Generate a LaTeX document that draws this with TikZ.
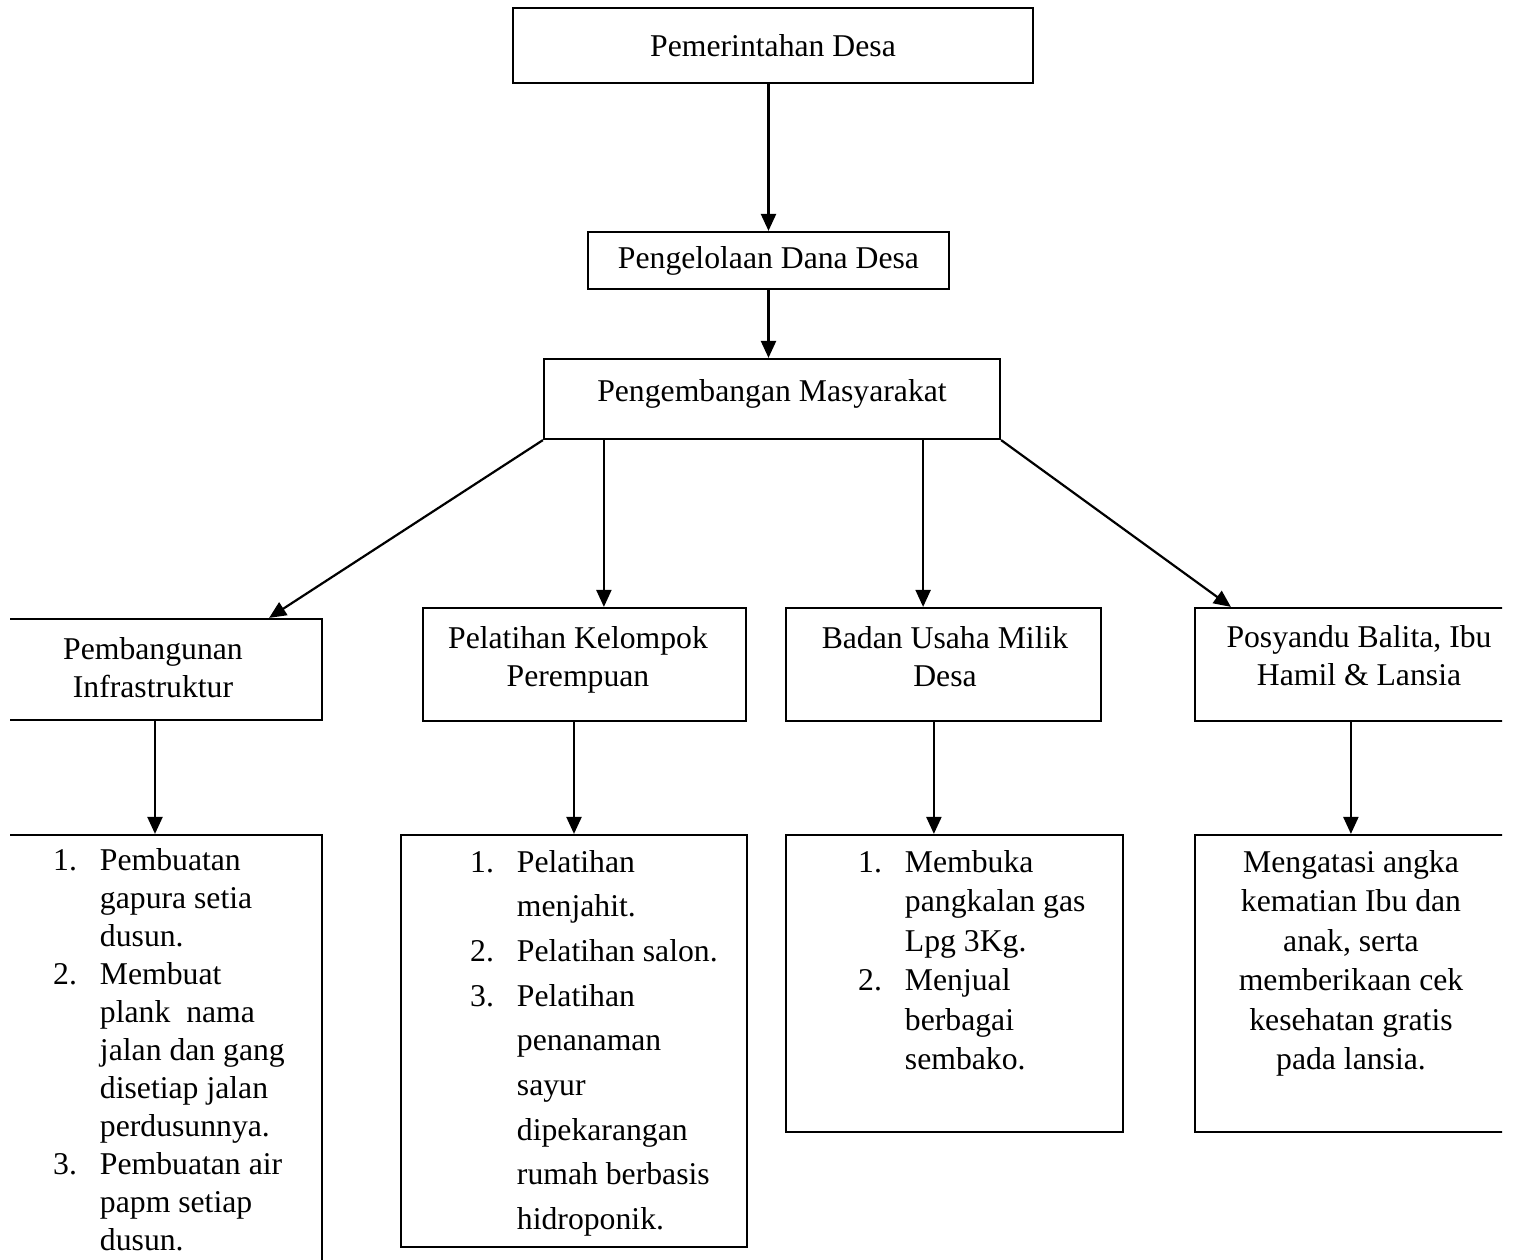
\documentclass[tikz,border=0pt]{standalone}
\usepackage{fontspec}
\setmainfont{Liberation Serif}
\usetikzlibrary{
	positioning,
	arrows.meta
}
\tikzset{
	kotak/.style={
		draw,
		line width=2.2pt,
		inner sep=0pt,
		font=\fontsize{31.7}{38}\selectfont
	},
	teks/.style={
		inner sep=0pt,
		anchor=base,
		font=\fontsize{31.7}{38}\selectfont
	},
	daftar/.style={
		inner sep=0pt,
		anchor=base west,
		font=\fontsize{31.7}{39.5}\selectfont
	},
	every edge/.append style={
		line width=2.2pt,
		-{Triangle[length=17pt,width=15pt]}
	}
}

\begin{document}
\begin{tikzpicture}[x=1pt,y=-1pt]
	\useasboundingbox (0,0) rectangle (1513,1259);
	\clip (10,0) rectangle (1502,1259);

	\draw
		node[kotak,minimum width=520pt,minimum height=75pt]  (pemdes) at (773,45.5)   {Pemerintahan Desa}
		node[kotak,minimum width=361pt,minimum height=57pt]  (dana)   at (768.5,260.5) {Pengelolaan Dana Desa}
		node[kotak,minimum width=456pt,minimum height=80pt]  (pm)     at (772,399)    {}
		node[kotak,minimum width=334pt,minimum height=101pt] (infra)  at (155,669.5)  {}
		node[kotak,minimum width=323pt,minimum height=113pt] (pkp)    at (584.5,664.5) {}
		node[kotak,minimum width=315pt,minimum height=113pt] (bumdes) at (943.5,664.5) {}
		node[kotak,minimum width=335pt,minimum height=113pt] (posy)   at (1362.5,664.5) {}
		node[kotak,minimum width=334pt,minimum height=465pt] (infraRinci)  at (155,1067.5) {}
		node[kotak,minimum width=346pt,minimum height=412pt] (pkpRinci)    at (574,1041)   {}
		node[kotak,minimum width=337pt,minimum height=297pt] (bumdesRinci) at (954.5,983.5) {}
		node[kotak,minimum width=335pt,minimum height=297pt] (posyRinci)   at (1362.5,983.5) {}
	;

	% teks di dalam kotak
	\node[teks] (pmTeks) at (772,401) {Pengembangan Masyarakat};
	\node[teks] (infraTeks) at (153,659)
		{\begin{tabular}[t]{@{}c@{}}Pembangunan\\Infrastruktur\end{tabular}};
	\node[teks] (pkpTeks) at (578,648)
		{\begin{tabular}[t]{@{}c@{}}Pelatihan Kelompok\\Perempuan\end{tabular}};
	\node[teks] (bumdesTeks) at (945,648)
		{\begin{tabular}[t]{@{}c@{}}Badan Usaha Milik\\Desa\end{tabular}};
	\node[teks] (posyTeks) at (1359,647)
		{\begin{tabular}[t]{@{}c@{}}Posyandu Balita, Ibu\\Hamil \& Lansia\end{tabular}};

	\node[daftar,font=\fontsize{31.7}{38}\selectfont] (infraRinciTeks) at (53,870)
		{\begin{tabular}[t]{@{}l@{\hspace{23pt}}l@{}}
			1. & Pembuatan\\
			   & gapura setia\\
			   & dusun.\\
			2. & Membuat\\
			   & plank\ \ nama\\
			   & jalan dan gang\\
			   & disetiap jalan\\
			   & perdusunnya.\\
			3. & Pembuatan air\\
			   & papm setiap\\
			   & dusun.
		\end{tabular}};
	\node[daftar,font=\fontsize{31.7}{44.7}\selectfont] (pkpRinciTeks) at (470,872)
		{\begin{tabular}[t]{@{}l@{\hspace{23pt}}l@{}}
			1. & Pelatihan\\
			   & menjahit.\\
			2. & Pelatihan salon.\\
			3. & Pelatihan\\
			   & penanaman\\
			   & sayur\\
			   & dipekarangan\\
			   & rumah berbasis\\
			   & hidroponik.
		\end{tabular}};
	\node[daftar] (bumdesRinciTeks) at (858,872)
		{\begin{tabular}[t]{@{}l@{\hspace{23pt}}l@{}}
			1. & Membuka\\
			   & pangkalan gas\\
			   & Lpg 3Kg.\\
			2. & Menjual\\
			   & berbagai\\
			   & sembako.
		\end{tabular}};
	\node[teks,font=\fontsize{31.7}{39.5}\selectfont] (posyRinciTeks) at (1351,872)
		{\begin{tabular}[t]{@{}c@{}}
			Mengatasi angka\\
			kematian Ibu dan\\
			anak, serta\\
			memberikaan cek\\
			kesehatan gratis\\
			pada lansia.
		\end{tabular}};

	% titik awal panah
	\coordinate (pmKiri)   at ([xshift=61pt]pm.south west);
	\coordinate (pmKanan)  at ([xshift=-78pt]pm.south east);
	\coordinate (bumdesB)  at ([xshift=149pt]bumdes.south west);
	\coordinate (posyB)    at ([xshift=157pt]posy.south west);

	\draw
		(pemdes.south -| dana.north) edge (dana.north)
		(dana.south) edge (dana.south |- pm.north)
		(pm.south west) edge ([xshift=-54pt]infra.north east)
		(pmKiri) edge (pmKiri |- pkp.north)
		(pmKanan) edge (pmKanan |- bumdes.north)
		(pm.south east) edge ([xshift=37pt]posy.north west)
		(infra.south) edge (infraRinci.north)
		(pkp.south -| pkpRinci.north) edge (pkpRinci.north)
		(bumdesB) edge (bumdesB |- bumdesRinci.north)
		(posyB) edge (posyB |- posyRinci.north)
	;
\end{tikzpicture}
\end{document}
